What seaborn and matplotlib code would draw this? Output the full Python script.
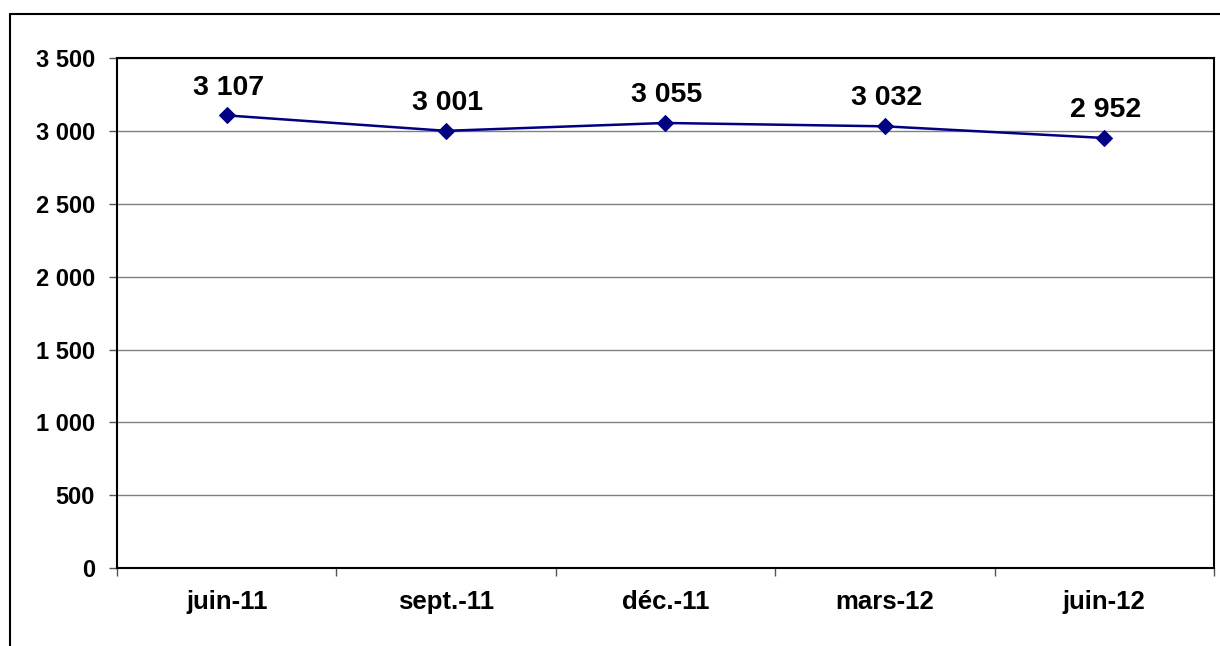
import numpy as np
import pandas as pd
import matplotlib
matplotlib.use('Agg')
import matplotlib.pyplot as plt
from matplotlib.lines import Line2D
import seaborn as sns

periods = ['juin-11', 'sept.-11', 'déc.-11', 'mars-12', 'juin-12']
values = [3107, 3001, 3055, 3032, 2952]
y_ticks = [0, 500, 1000, 1500, 2000, 2500, 3000, 3500]

def fr_num(v):
    return f'{v:,}'.replace(',', ' ')

sns.set_style('white')
plt.rcParams['font.family'] = ['Liberation Sans', 'DejaVu Sans']
plt.rcParams['font.weight'] = 'bold'
plt.rcParams['text.color'] = 'black'
plt.rcParams['xtick.color'] = 'black'
plt.rcParams['ytick.color'] = 'black'

df = pd.DataFrame({'pos': np.arange(len(periods)), 'val': values})

fig = plt.figure(figsize=(12.2, 6.46), dpi=100)
ax = fig.add_axes([0.0959, 0.1207, 0.8991, 0.7893])

sns.lineplot(data=df, x='pos', y='val', ax=ax, color='#000080', lw=1.8,
             marker='D', markersize=8, markeredgecolor='#000080', zorder=3)

for x, v in zip(df['pos'], values):
    ax.annotate(fr_num(v), (x, v), xytext=(1, 15), textcoords='offset points',
                ha='center', va='baseline', fontsize=20.5, fontweight='bold',
                color='black')

ax.set_xlim(-0.5, len(periods) - 0.5)
ax.set_ylim(0, 3500)
ax.set_yticks(y_ticks, labels=[fr_num(t) for t in y_ticks])
ax.set_xticks(np.arange(-0.5, len(periods)), labels=[''] * (len(periods) + 1))
ax.set_xticks(np.arange(len(periods)), labels=periods, minor=True)
ax.tick_params(axis='x', which='major', direction='out', length=6, width=1, color='#555555', bottom=True)
ax.tick_params(axis='x', which='minor', length=0, pad=16, labelsize=18.5)
ax.tick_params(axis='y', direction='out', length=6, width=1, color='#555555', left=True, pad=10, labelsize=17)
for lab in ax.get_xticklabels(minor=True) + ax.get_yticklabels():
    lab.set_fontweight('bold')

ax.yaxis.grid(True, color='#808080', lw=1)
ax.set_axisbelow(True)
for s in ax.spines.values():
    s.set_color('black')
    s.set_linewidth(1.5)
ax.set_xlabel('')
ax.set_ylabel('')

# outer chart frame
top = 1 - 14 / 646
left = 10 / 1220
fig.add_artist(Line2D([left, left], [0, top], color='black', lw=1.5, transform=fig.transFigure))
fig.add_artist(Line2D([left, 1], [top, top], color='black', lw=1.5, transform=fig.transFigure))

fig.savefig('out.png', dpi=100)
